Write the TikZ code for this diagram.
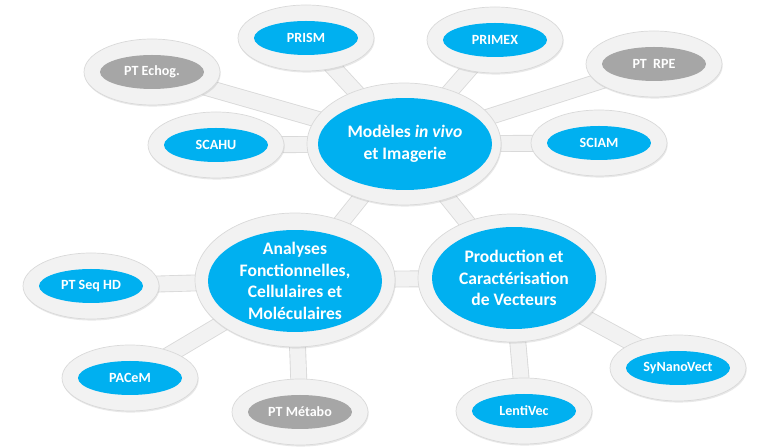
\documentclass[tikz,border=0pt]{standalone}
\usepackage{fontspec}
\setmainfont{Carlito}
\usepackage{tikz}
\usetikzlibrary{shapes,backgrounds,shadows}

\definecolor{hubblue}{HTML}{00B0F0}
\definecolor{ptgray}{HTML}{A6A6A6}
\definecolor{ringfill}{HTML}{F2F2F2}
\definecolor{ringline}{HTML}{D9D9D9}

\begin{document}
\begin{tikzpicture}[
    x=0.02cm, y=-0.02cm,
    ring/.style={ellipse, fill=ringfill, draw=ringline, line width=0.4pt, minimum width=2.72cm, minimum height=1.32cm,
        drop shadow={shadow xshift=0.4pt, shadow yshift=-0.9pt, opacity=0.18}},
    sat/.style={ellipse, fill=hubblue, inner sep=0pt, minimum width=2.08cm, minimum height=0.68cm, text=white, font=\fontsize{8}{9}\selectfont\bfseries},
    pt/.style={sat, fill=ptgray},
    hub/.style={ellipse, fill=hubblue, inner sep=-4pt, align=center, text=white, font=\fontsize{10}{12.3}\selectfont\bfseries},
    bar/.style={draw=ringline, line width=0.5pt, double=ringfill, double distance=8.6pt}
]
\useasboundingbox (0,0) rectangle (758,448);

% Hubs
\node[ring, minimum width=3.88cm, minimum height=2.44cm] (modeles) at (404,144) {};
\node[hub, minimum width=3.48cm, minimum height=1.84cm] (modeles-in) at (405,144) {Modèles \textit{in vivo}\\et Imagerie};

\node[ring, minimum width=4cm, minimum height=2.68cm] (analyses) at (295,280) {};
\node[hub, minimum width=3.48cm, minimum height=2.04cm] (analyses-in) at (295,281) {Analyses\\Fonctionnelles,\\Cellulaires et\\Moléculaires};

\node[ring, minimum width=3.76cm, minimum height=2.56cm] (production) at (512,278) {};
\node[hub, minimum width=3.28cm, minimum height=2.04cm] (production-in) at (514,278) {Production et\\Caractérisation\\de Vecteurs};

% Platforms round Modèles in vivo
\node[ring] (prism) at (306,38) {};
\node[sat] (prism-in) at (prism) {PRISM};
\node[ring] (primex) at (495,40) {};
\node[sat] (primex-in) at (primex) {PRIMEX};
\node[ring] (echog) at (152,72) {};
\node[pt] (echog-in) at (echog) {PT Echog.};
\node[ring] (rpe) at (654,64) {};
\node[pt] (rpe-in) at (rpe) {PT~~RPE};
\node[ring] (scahu) at (216,145) {};
\node[sat] (scahu-in) at (scahu) {SCAHU};
\node[ring] (sciam) at (599,143) {};
\node[sat] (sciam-in) at (sciam) {SCIAM};

% Platforms round Analyses
\node[ring] (seqhd) at (91,286) {};
\node[sat] (seqhd-in) at (seqhd) {PT Seq HD};
\node[ring] (pacem) at (130,378) {};
\node[sat] (pacem-in) at (pacem) {PACeM};
\node[ring] (metabo) at (300,412) {};
\node[pt] (metabo-in) at (metabo) {PT Métabo};

% Platforms round Production
\node[ring] (lentivec) at (524,411) {};
\node[sat] (lentivec-in) at (lentivec) {LentiVec};
\node[ring] (synano) at (678,368) {};
\node[sat] (synano-in) at (synano) {SyNanoVect};

% Links
\begin{scope}[on background layer]
\foreach \s in {prism,primex,echog,rpe,scahu,sciam,analyses,production}
    \draw[bar] (modeles.center) -- (\s.center);
\foreach \s in {seqhd,pacem,metabo,production}
    \draw[bar] (analyses.center) -- (\s.center);
\foreach \s in {lentivec,synano}
    \draw[bar] (production.center) -- (\s.center);
\end{scope}

\end{tikzpicture}
\end{document}
